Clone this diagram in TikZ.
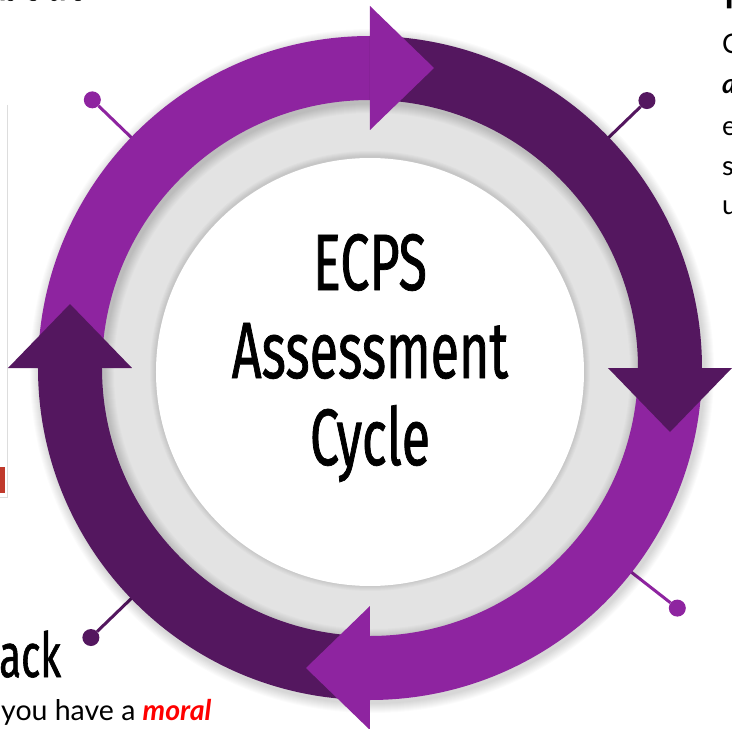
\documentclass[tikz,border=0pt]{standalone}
\usepackage{fontspec}
\newfontfamily\condfont[FakeStretch=0.65, FakeBold=0.9]{Fira Sans}
\newfontfamily\bodyfont{Lato}
\definecolor{lightpurple}{HTML}{8E24A0}
\definecolor{darkpurple}{HTML}{54175F}
\definecolor{discgray}{HTML}{E3E3E3}
\definecolor{framegray}{HTML}{DDDDDD}
\definecolor{tabred}{HTML}{C0392B}
% ring geometry: mid radius, half band width, half head width, head length
\def\R{300}\def\W{32}\def\H{62}\def\L{64}
% band of one quarter, ending at angle #1 (clockwise travel)
\newcommand\cycleband[2]{%
  \fill[#2] ({#1+90}:{\R+\W}) arc[start angle={#1+90}, end angle={#1}, radius={(\R+\W)*1pt}]
    -- ({#1}:{\R-\W}) arc[start angle={#1}, end angle={#1+90}, radius={(\R-\W)*1pt}] -- cycle;}
% triangular head at angle #1, pointing clockwise
\newcommand\cyclehead[2]{%
  \fill[#2] ({#1}:{\R-\H}) -- ({#1}:{\R+\H})
    -- ({\R*cos(#1)+\L*sin(#1)},{\R*sin(#1)-\L*cos(#1)}) -- cycle;}
\begin{document}
\begin{tikzpicture}[x=1pt,y=1pt,
  pin/.style={circle, fill=#1, inner sep=0pt, minimum size=17pt},
  pinline/.style={draw=#1, line width=3pt},
  title/.style={anchor=base, inner sep=0pt, font=\condfont\fontsize{80}{80}\selectfont},
  heading/.style={anchor=base west, inner sep=0pt, font=\condfont\fontsize{62}{62}\selectfont},
  body/.style={anchor=base west, inner sep=0pt, font=\bodyfont\fontsize{27}{27}\selectfont}]
\useasboundingbox (-370,-361) rectangle (362,368);
\clip (-370,-361) rectangle (362,368);
\fill[white] (-370,-361) rectangle (362,368);

% neighbouring slide content
\draw[framegray, line width=1pt] (-362,263) -- (-362,-129) -- (-370,-129);
\fill[tabred] (-370,-99) rectangle (-365,-125);
\node[heading] (hTL) at (-373,368) {bout};
\node[heading] (hTR) at (353,360) {I};
\node[heading] (hBL) at (-371,-309) {ack};
\node[body] (r1) at (352,314) {C};
\node[body] (r2) at (352,274) {\bfseries\itshape a};
\node[body] (r3) at (352,233) {e};
\node[body] (r4) at (352,193) {s};
\node[body] (r5) at (352,154) {u};
\node[body, font=\bodyfont\fontsize{28.5}{28.5}\selectfont] (b1) at (-369,-352)
  {you have a \textcolor{red}{\bfseries\itshape moral}};

% pins on the diagonals
\node[pin=lightpurple] (pTL) at (136:386) {};
\node[pin=darkpurple]  (pTR) at (44:385) {};
\node[pin=lightpurple] (pBR) at (-38:390) {};
\node[pin=darkpurple]  (pBL) at (-136:388) {};
\coordinate (aTL) at (136:320);
\coordinate (aTR) at (44:320);
\coordinate (aBR) at (-38:320);
\coordinate (aBL) at (-136:320);
\draw[pinline=lightpurple] (aTL) -- (pTL);
\draw[pinline=darkpurple]  (aTR) -- (pTR);
\draw[pinline=lightpurple] (aBR) -- (pBR);
\draw[pinline=darkpurple]  (aBL) -- (pBL);

% grey disc with soft ring shadow
\fill[discgray] (0,0) circle[radius=290pt];
\foreach \i in {1,...,10}
  \draw[black, opacity=0.014, line width={(2*\W+2*\i)*1pt}] (2,-3) circle[radius=300pt];

% white centre with soft edge
\foreach \i in {1,...,6}
  \fill[black, opacity=0.018] (0,-3) circle[radius={(214+\i)*1pt}];
\fill[white] (0,-4) circle[radius=214pt];

% the four cycle arrows
\cycleband{90}{lightpurple}
\cycleband{0}{darkpurple}
\cycleband{-90}{lightpurple}
\cycleband{180}{darkpurple}
\cyclehead{90}{lightpurple}
\cyclehead{0}{darkpurple}
\cyclehead{-90}{lightpurple}
\cyclehead{180}{darkpurple}

% title
\node[title] (t1) at (0,78) {ECPS};
\node[title] (t2) at (0,-10) {Assessment};
\node[title] (t3) at (0,-97) {Cycle};
\end{tikzpicture}
\end{document}
